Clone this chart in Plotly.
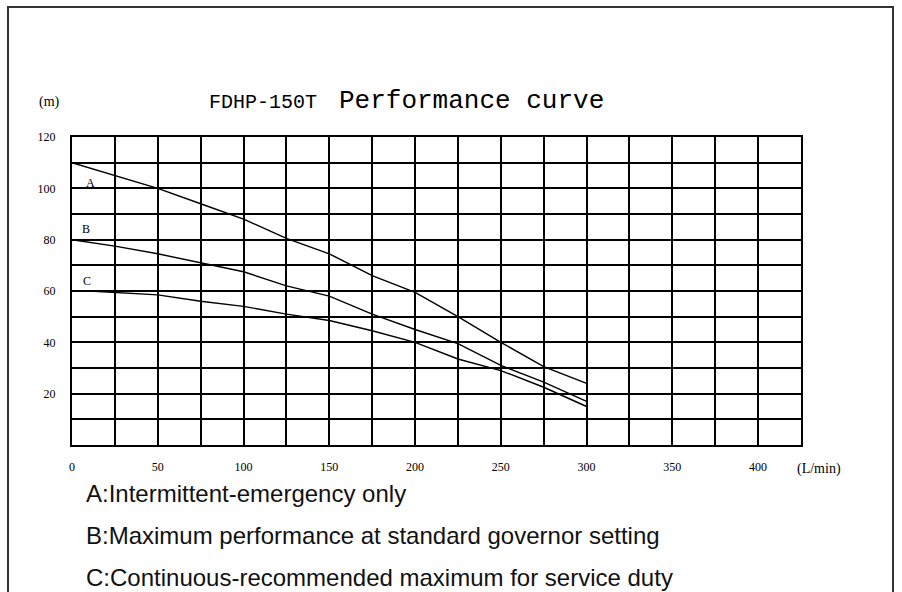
import plotly.graph_objects as go

# Flow (L/min) and head (m) readings
flow_ab = [0, 25, 50, 75, 100, 125, 150, 175, 200, 225, 250, 275, 300]
head_a = [110, 105, 100, 94, 88, 80.5, 74.5, 66, 59.5, 50, 40, 30.5, 24]
head_b = [80, 77.5, 74.5, 71, 67.5, 62, 58, 51, 45, 39.5, 31, 24.5, 17]
flow_c = [10, 25, 50, 75, 100, 125, 150, 175, 200, 225, 250, 275, 300]
head_c = [60, 59.5, 58.5, 56, 54, 51, 48.5, 44.5, 40, 33.5, 29, 22.5, 15]

curve_names = ["A", "B", "C"]
x_ticks = [0, 50, 100, 150, 200, 250, 300, 350, 400]
y_ticks = [20, 40, 60, 80, 100, 120]

title_small = "FDHP-150T"
title_big = "Performance curve"
x_unit = "(L/min)"
y_unit = "(m)"
notes = [
    "A:Intermittent-emergency only",
    "B:Maximum performance at standard governor setting",
    "C:Continuous-recommended maximum for service duty",
]

W, H = 902, 592
L, R, T, B = 72, 801, 137, 445  # plot area in page pixels
pw, ph = R - L, B - T


def px(x):
    return (x - L) / pw


def py(y):
    return (B - y) / ph


fig = go.Figure()
line_style = dict(color="black", width=1.4)
fig.add_trace(go.Scatter(x=flow_ab, y=head_a, mode="lines", line=line_style, name=curve_names[0]))
fig.add_trace(go.Scatter(x=flow_ab, y=head_b, mode="lines", line=line_style, name=curve_names[1]))
fig.add_trace(go.Scatter(x=flow_c, y=head_c, mode="lines", line=line_style, name=curve_names[2]))

tick_font = dict(family="Liberation Serif", size=12, color="black")

fig.update_layout(
    width=W, height=H,
    margin=dict(l=L, r=W - R, t=T, b=H - B),
    paper_bgcolor="white", plot_bgcolor="white",
    showlegend=False,
    xaxis=dict(
        range=[0, 425], tickvals=x_ticks, ticktext=[str(v) for v in x_ticks],
        showgrid=True, gridcolor="black", gridwidth=2,
        minor=dict(dtick=25, tick0=0, showgrid=True, gridcolor="black", gridwidth=2),
        showline=True, linecolor="black", linewidth=2, mirror=True,
        zeroline=False, ticks="", tickfont=tick_font, ticklabelstandoff=10,
        fixedrange=True,
    ),
    yaxis=dict(
        range=[0, 120], tickvals=y_ticks, ticktext=[str(v) for v in y_ticks],
        showgrid=True, gridcolor="black", gridwidth=2,
        minor=dict(dtick=10, tick0=0, showgrid=True, gridcolor="black", gridwidth=2),
        showline=True, linecolor="black", linewidth=2, mirror=True,
        zeroline=False, ticks="", tickfont=tick_font, ticklabelstandoff=12,
        fixedrange=True,
    ),
)

# outer frame
fig.add_shape(type="rect", xref="paper", yref="paper",
              x0=px(8), x1=px(893), y0=py(610), y1=py(7),
              line=dict(color="#333333", width=2), fillcolor="rgba(0,0,0,0)", layer="below")

ann = []
# title
ann.append(dict(x=px(207), y=py(103), xref="paper", yref="paper", text=title_small,
                xanchor="left", yanchor="middle", showarrow=False,
                font=dict(family="Liberation Mono", size=20, color="black")))
ann.append(dict(x=px(337), y=py(101), xref="paper", yref="paper", text=title_big,
                xanchor="left", yanchor="middle", showarrow=False,
                font=dict(family="Liberation Mono", size=26, color="black")))
# units
ann.append(dict(x=px(49), y=py(102), xref="paper", yref="paper", text=y_unit,
                xanchor="center", yanchor="middle", showarrow=False,
                font=dict(family="Liberation Serif", size=14, color="black")))
ann.append(dict(x=px(795), y=py(469), xref="paper", yref="paper", text=x_unit,
                xanchor="left", yanchor="middle", showarrow=False,
                font=dict(family="Liberation Serif", size=14, color="black")))
# curve labels
for name, (lx, ly) in zip(curve_names, [(11, 102), (8, 84), (9, 64)]):
    ann.append(dict(x=lx, y=ly, xref="x", yref="y", text=name, showarrow=False,
                    xanchor="center", yanchor="middle",
                    font=dict(family="Liberation Serif", size=12, color="black")))
# notes
for i, t in enumerate(notes):
    ann.append(dict(x=px(84), y=py(493 + 42 * i), xref="paper", yref="paper", text=t,
                    xanchor="left", yanchor="middle", showarrow=False,
                    font=dict(family="Liberation Sans", size=24, color="#111111")))
fig.update_layout(annotations=ann)

fig.write_html(
    "out.html",
    config={"displayModeBar": False},
    post_script="document.body.style.margin='0';document.body.style.overflow='hidden';",
)
